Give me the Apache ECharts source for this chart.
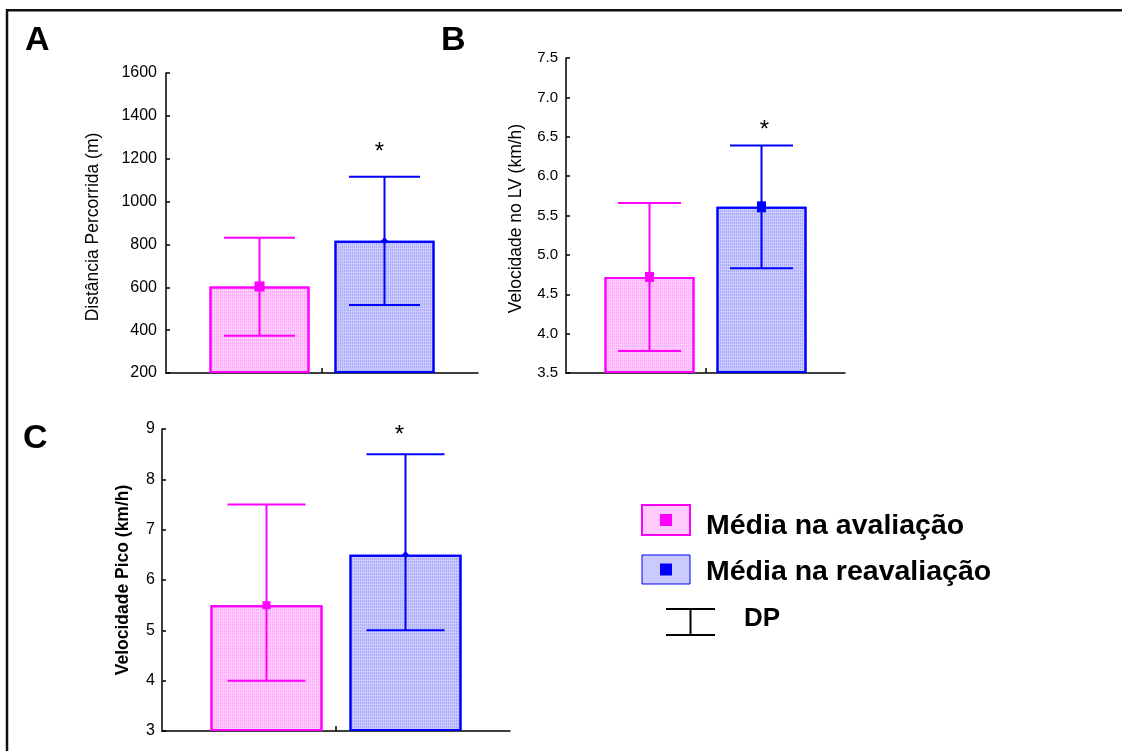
<!DOCTYPE html>
<html><head><meta charset="utf-8">
<script src="https://cdn.jsdelivr.net/npm/echarts@6/dist/echarts.min.js"></script>
<style>html,body{margin:0;padding:0;background:#fff}#c{width:1122px;height:751px}</style>
</head><body><div id="c"></div>
<script>
// ---------- data ----------
const groups = ['Média na avaliação', 'Média na reavaliação'];
const legendLabels = ['Média na avaliação', 'Média na reavaliação', 'DP'];
const panelLetters = ['A', 'B', 'C'];
const yTitles = ['Distância Percorrida (m)', 'Velocidade no LV (km/h)', 'Velocidade Pico (km/h)'];
const yTicksA = [200, 400, 600, 800, 1000, 1200, 1400, 1600];
const yTicksB = [3.5, 4.0, 4.5, 5.0, 5.5, 6.0, 6.5, 7.0, 7.5];
const yTicksC = [3, 4, 5, 6, 7, 8, 9];
const meanA = [604, 817];
const lowA = [374, 517];
const highA = [831, 1116];
const meanB = [4.72, 5.61];
const lowB = [3.78, 4.83];
const highB = [5.66, 6.39];
const meanC = [5.5, 6.5];
const lowC = [4.0, 5.0];
const highC = [7.5, 8.5];
const significant = [false, true];

// ---------- styling / layout ----------
const FONT = '"Liberation Sans", Arial, sans-serif';
const lineColors = ['#ff00ff', '#0000ff'];
const fillColors = ['#ffcbfd', '#cacafd'];
const decalColors = ['rgba(255,120,255,0.40)', 'rgba(120,120,255,0.40)'];

const panels = [
  {mean: meanA, low: lowA, high: highA, ticks: yTicksA, dec: 0},
  {mean: meanB, low: lowB, high: highB, ticks: yTicksB, dec: 1},
  {mean: meanC, low: lowC, high: highC, ticks: yTicksC, dec: 0}
];
const layout = [
  {grid: {left: 166, top: 73, width: 312, height: 300}, barWidth: 100, gap: 25, cap: 71,
   marker: [['rect', [10, 10]], ['diamond', [7, 7]]], nameGap: 64, titleBold: false, titleShift: 8,
   labelSize: 16, labelMargin: 9, starDx: -5, starGap: 24, letter: [25, 41]},
  {grid: {left: 566, top: 58, width: 279, height: 315}, barWidth: 90, gap: 22, cap: 63,
   marker: [['rect', [9, 10]], ['rect', [9, 11]]], nameGap: 41, titleBold: false, titleShift: 6,
   labelSize: 15, labelMargin: 8, starDx: 3, starGap: 15, letter: [441, 41]},
  {grid: {left: 162, top: 429, width: 348, height: 302}, barWidth: 112, gap: 27, cap: 78,
   marker: [['rect', [8, 8]], ['diamond', [7, 7]]], nameGap: 30, titleBold: true, titleShift: 0,
   labelSize: 16, labelMargin: 7, starDx: -6, starGap: 19, letter: [23, 439]}
];

const grids = [], xAxes = [], yAxes = [], series = [];
panels.forEach((P, i) => {
  const L = layout[i];
  grids.push(L.grid);
  xAxes.push({
    type: 'category', gridIndex: i, data: [''],
    axisLine: {show: true, lineStyle: {color: '#000', width: 1.5}},
    axisTick: {show: true, inside: true, alignWithLabel: true, length: 5, lineStyle: {color: '#000', width: 1.5}},
    axisLabel: {show: false}, splitLine: {show: false}
  });
  const t = P.ticks;
  yAxes.push({
    type: 'value', gridIndex: i, min: t[0], max: t[t.length - 1], interval: t[1] - t[0],
    startValue: t[0],
    name: yTitles[i], nameLocation: 'middle', nameGap: L.nameGap, nameRotate: 90,
    nameTextStyle: {fontFamily: FONT, fontSize: 17.5, color: '#000', fontWeight: L.titleBold ? 'bold' : 'normal',
      padding: [0, L.titleShift, 0, 0]},
    axisLine: {show: true, lineStyle: {color: '#000', width: 1.5}},
    axisTick: {show: true, inside: true, length: 4, lineStyle: {color: '#000', width: 1.5}},
    axisLabel: {fontFamily: FONT, fontSize: L.labelSize, color: '#000', margin: L.labelMargin,
      formatter: v => Number(v).toFixed(P.dec)},
    splitLine: {show: false}
  });
  groups.forEach((g, k) => {
    series.push({
      type: 'bar', name: g, xAxisIndex: i, yAxisIndex: i, data: [P.mean[k]],
      barWidth: L.barWidth, barGap: (L.gap / L.barWidth * 100) + '%',
      itemStyle: {color: fillColors[k], borderColor: lineColors[k], borderWidth: 2,
        decal: {symbol: 'rect', symbolSize: 1, color: decalColors[k], dashArrayX: [1, 1], dashArrayY: [2, 1]}},
      emphasis: {disabled: true}, silent: true
    });
  });
  series.push({
    type: 'custom', xAxisIndex: i, yAxisIndex: i, z: 5, silent: true,
    encode: {x: 0, y: [1, 2, 3]},
    data: groups.map((g, k) => [0, P.low[k], P.high[k], P.mean[k], k]),
    renderItem(params, api) {
      const k = api.value(4);
      const dx = (k === 0 ? -1 : 1) * (L.barWidth + L.gap) / 2;
      const cx = api.coord([0, api.value(3)])[0] + dx;
      const yLow = api.coord([0, api.value(1)])[1];
      const yHigh = api.coord([0, api.value(2)])[1];
      const yMean = api.coord([0, api.value(3)])[1];
      const col = lineColors[k];
      const hc = L.cap / 2;
      const ls = {stroke: col, lineWidth: 2};
      const children = [
        {type: 'line', shape: {x1: cx, y1: yLow, x2: cx, y2: yHigh}, style: ls},
        {type: 'line', shape: {x1: cx - hc, y1: yLow, x2: cx + hc, y2: yLow}, style: ls},
        {type: 'line', shape: {x1: cx - hc, y1: yHigh, x2: cx + hc, y2: yHigh}, style: ls}
      ];
      const [shape, sz] = L.marker[k];
      if (shape === 'rect') {
        children.push({type: 'rect', shape: {x: cx - sz[0] / 2, y: yMean - sz[1] / 2, width: sz[0], height: sz[1]}, style: {fill: col}});
      } else {
        const w = sz[0] / 2, h = sz[1] / 2;
        children.push({type: 'polygon', shape: {points: [[cx, yMean - h], [cx + w, yMean], [cx, yMean + h], [cx - w, yMean]]}, style: {fill: col}});
      }
      if (significant[k]) {
        children.push({type: 'text', x: cx + L.starDx, y: yHigh - L.starGap,
          style: {text: '*', fontSize: 24, fontFamily: FONT, fill: '#000', align: 'center', verticalAlign: 'middle'}});
      }
      return {type: 'group', children};
    }
  });
});

const graphic = [
  {type: 'line', shape: {x1: 6, y1: 10.3, x2: 1122, y2: 10.3}, style: {stroke: '#111', lineWidth: 2.5}},
  {type: 'line', shape: {x1: 7, y1: 9, x2: 7, y2: 751}, style: {stroke: '#111', lineWidth: 2.5}}
];
panelLetters.forEach((ch, i) => {
  graphic.push({type: 'text', x: layout[i].letter[0], y: layout[i].letter[1],
    style: {text: ch, fontSize: 34, fontWeight: 'bold', fontFamily: FONT, fill: '#000', align: 'left', verticalAlign: 'middle'}});
});
// legend
[[505, 30], [555, 29]].forEach(([y, h], k) => {
  graphic.push({type: 'rect', shape: {x: 642, y: y, width: 48, height: h},
    style: {fill: fillColors[k], stroke: lineColors[k], lineWidth: k === 0 ? 2 : 1}});
  graphic.push({type: 'rect', shape: {x: 660, y: y + h / 2 - 6, width: 12, height: 12}, style: {fill: lineColors[k]}});
});
graphic.push({type: 'line', shape: {x1: 666, y1: 609, x2: 715, y2: 609}, style: {stroke: '#000', lineWidth: 2}});
graphic.push({type: 'line', shape: {x1: 666, y1: 635, x2: 715, y2: 635}, style: {stroke: '#000', lineWidth: 2}});
graphic.push({type: 'line', shape: {x1: 690.5, y1: 609, x2: 690.5, y2: 635}, style: {stroke: '#000', lineWidth: 2}});
[[706, 526, 28.5], [706, 572.5, 28.5], [744, 619, 26]].forEach(([x, y, fs], k) => {
  graphic.push({type: 'text', x, y,
    style: {text: legendLabels[k], fontSize: fs, fontWeight: 'bold', fontFamily: FONT, fill: '#000', align: 'left', verticalAlign: 'middle'}});
});

const chart = echarts.init(document.getElementById('c'), null, {renderer: 'canvas'});
chart.setOption({
  animation: false,
  backgroundColor: '#fff',
  grid: grids, xAxis: xAxes, yAxis: yAxes, series, graphic
});
</script></body></html>
